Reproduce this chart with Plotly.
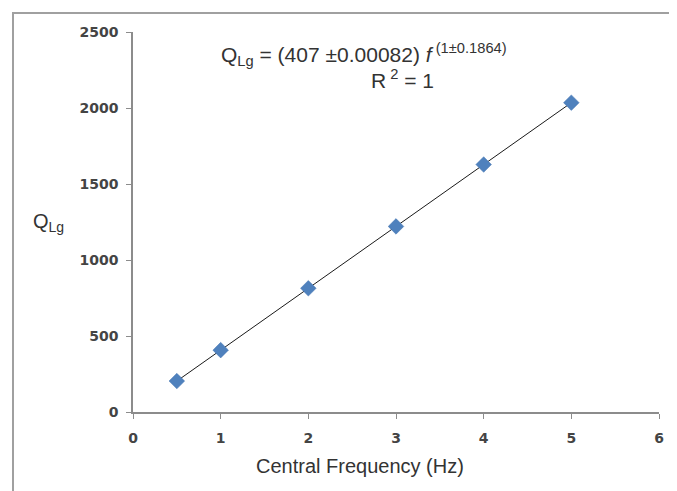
import plotly.graph_objects as go

freq = [0.5, 1, 2, 3, 4, 5]
q_lg = [203.5, 407, 814, 1221, 1628, 2035]
fit_x = [0.5, 5]
fit_y = [203.5, 2035]
x_ticks = [0, 1, 2, 3, 4, 5, 6]
y_ticks = [0, 500, 1000, 1500, 2000, 2500]

# screen geometry (page has 8px body margin)
OFF = 8
PL, PR, PT, PB = 133, 659, 32, 412
W, H = 669, 483


def px(sx):
    return (sx - PL) / (PR - PL)


def py(sy):
    return (PB - sy) / (PB - PT)


fig = go.Figure()
fig.add_trace(go.Scatter(x=fit_x, y=fit_y, mode="lines",
                         line=dict(color="#1a1a1a", width=1), showlegend=False))
fig.add_trace(go.Scatter(x=freq, y=q_lg, mode="markers",
                         marker=dict(symbol="diamond", size=12, color="#4F81BD",
                                     line=dict(color="#4575B0", width=0.5)),
                         showlegend=False))

axis_common = dict(showline=True, linecolor="#8C8C8C", linewidth=1.5,
                   ticks="outside", ticklen=5, tickcolor="#8C8C8C",
                   showgrid=False, zeroline=False,
                   tickfont=dict(family="DejaVu Sans", size=14, color="#444444",
                                 weight="bold"))

fig.update_xaxes(range=[0, 6], tickvals=x_ticks, ticklabelstandoff=7, **axis_common)
fig.update_yaxes(range=[0, 2500], tickvals=y_ticks, ticklabelstandoff=5, **axis_common)

txt_font = dict(family="Liberation Sans", size=21, color="#333333")
fig.add_annotation(xref="paper", yref="paper", x=px(364), y=py(55),
                   text="Q<sub>Lg</sub> = (407 ±0.00082) <i>f</i><sup> (1±0.1864)</sup>",
                   showarrow=False, font=txt_font,
                   xanchor="center", yanchor="middle")
fig.add_annotation(xref="paper", yref="paper", x=px(402), y=py(79),
                   text="R<sup> 2</sup> = 1",
                   showarrow=False, font=txt_font,
                   xanchor="center", yanchor="middle")
fig.add_annotation(xref="paper", yref="paper", x=px(48), y=py(222),
                   text="Q<sub>Lg</sub>", showarrow=False,
                   font=dict(family="Liberation Sans", size=20, color="#333333"),
                   xanchor="center", yanchor="middle")
fig.add_annotation(xref="paper", yref="paper", x=px(360), y=py(466),
                   text="Central Frequency (Hz)", showarrow=False,
                   font=dict(family="Liberation Sans", size=20, color="#333333"),
                   xanchor="center", yanchor="middle")

fig.add_shape(type="rect", xref="paper", yref="paper",
              x0=px(13), y0=py(530), x1=px(720), y1=py(13),
              line=dict(color="#A0A0A0", width=2), fillcolor="rgba(0,0,0,0)")

fig.update_layout(width=W, height=H,
                  margin=dict(l=PL - OFF, r=W - (PR - OFF), t=PT - OFF, b=H - (PB - OFF)),
                  paper_bgcolor="white", plot_bgcolor="white")

fig.write_html("out.html")
